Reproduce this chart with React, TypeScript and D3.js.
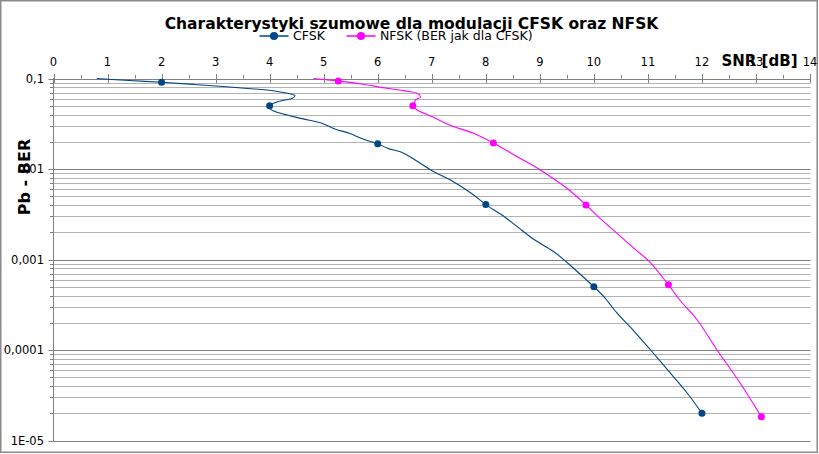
import React from "react";
import * as d3 from "d3";

// SNR [dB] and bit error rate for each modulation
const cfskSnr = [0.8, 1.4, 2.0, 2.6, 3.2, 3.6, 3.95, 4.33, 4.47, 4.42, 4.2, 4.0, 4.02, 4.25, 4.6, 5.0, 5.18, 5.5, 5.74, 6.0, 6.2, 6.42, 6.7, 7.03, 7.34, 7.77, 8.0, 8.3, 8.58, 8.9, 9.26, 9.66, 10.0, 10.2, 10.43, 10.75, 11.05, 11.42, 11.73, 12.0];
const cfskBer = [0.1, 0.095, 0.0908, 0.086, 0.081, 0.0775, 0.0746, 0.0686, 0.0645, 0.0605, 0.0565, 0.05, 0.0455, 0.0405, 0.036, 0.0315, 0.0281, 0.0245, 0.0213, 0.019, 0.0168, 0.0155, 0.0125, 0.0094, 0.0076, 0.0052, 0.00404, 0.0031, 0.00231, 0.00165, 0.00122, 0.000766, 0.0005, 0.00038, 0.000255, 0.00016, 0.0001, 5.52e-5, 3.33e-5, 2.0e-5];
const cfskMarkers = [2, 11, 19, 26, 32, 39];

const nfskSnr = [4.81, 5.27, 5.7, 6.17, 6.5, 6.73, 6.79, 6.7, 6.68, 6.65, 6.73, 7.0, 7.34, 7.77, 8.14, 8.6, 9.01, 9.5, 9.855, 10.1, 10.43, 10.75, 11.05, 11.38, 11.6, 11.91, 12.28, 12.71, 13.1];
const nfskBer = [0.1, 0.0937, 0.087, 0.0779, 0.073, 0.0686, 0.0625, 0.058, 0.054, 0.05, 0.0449, 0.038, 0.0305, 0.0248, 0.0194, 0.0135, 0.00975, 0.00612, 0.004, 0.0029, 0.00194, 0.00132, 0.00092, 0.000525, 0.00035, 0.000216, 0.0001, 4.29e-5, 1.83e-5];
const nfskMarkers = [1, 9, 14, 18, 23, 28];

const xTicks = [0, 1, 2, 3, 4, 5, 6, 7, 8, 9, 10, 11, 12, 13, 14];
const yDecades = [0.1, 0.01, 0.001, 0.0001, 0.00001];
const yLabels = ["0,1", "0,01", "0,001", "0,0001", "1E-05"];

const title = "Charakterystyki szumowe dla modulacji CFSK oraz NFSK";
const seriesNames = ["CFSK", "NFSK (BER jak dla CFSK)"];
const seriesColors = ["#004586", "#ff00ff"];

const W = 819;
const H = 454;
const FONT = "'DejaVu Sans', Verdana, sans-serif";

export default function App() {
  const x = d3.scaleLinear().domain([0, 14]).range([53.5, 810]);
  const y = d3.scaleLog().domain([1e-5, 0.1]).range([440.5, 78.5]);

  // minor gridlines: 2..9 within each decade
  const minor: number[] = [];
  for (let e = -5; e < -1; e++) {
    for (let m = 2; m <= 9; m++) minor.push(m * Math.pow(10, e));
  }
  const halfTicks = xTicks.slice(0, -1).map((t) => t + 0.5);

  const line = d3
    .line<[number, number]>()
    .x((d) => x(d[0]))
    .y((d) => y(d[1]))
    .curve(d3.curveCatmullRom.alpha(0.5));

  const series = [
    { snr: cfskSnr, ber: cfskBer, marks: cfskMarkers },
    { snr: nfskSnr, ber: nfskBer, marks: nfskMarkers },
  ].map((s, i) => ({
    pts: s.snr.map((v, j) => [v, s.ber[j]] as [number, number]),
    marks: s.marks,
    color: seriesColors[i],
    name: seriesNames[i],
  }));

  const legendItems = [
    { x0: 259.5, text: seriesNames[0], color: seriesColors[0] },
    { x0: 346.5, text: seriesNames[1], color: seriesColors[1] },
  ];

  const snap = (v: number) => Math.round(v) + 0.5;

  return (
    <svg
      width={W}
      height={H}
      style={{ position: "absolute", left: 0, top: 0, background: "#fff" }}
      fontFamily={FONT}
    >
      <rect x={0.75} y={0.75} width={816.5} height={451.5} fill="#fff" stroke="#8a8a8a" strokeWidth={1.5} />

      {/* gridlines */}
      {minor.map((v, i) => (
        <line key={"mg" + i} x1={53.5} x2={810.5} y1={snap(y(v))} y2={snap(y(v))} stroke="#b3b3b3" strokeWidth={1} />
      ))}
      {yDecades.map((v, i) => (
        <line key={"Mg" + i} x1={53.5} x2={810.5} y1={snap(y(v))} y2={snap(y(v))} stroke="#808080" strokeWidth={1} />
      ))}

      {/* left axis */}
      <line x1={53.5} x2={53.5} y1={78} y2={441} stroke="#808080" />
      {minor.map((v, i) => (
        <line key={"mt" + i} x1={50} x2={53.5} y1={snap(y(v))} y2={snap(y(v))} stroke="#808080" />
      ))}
      {yDecades.map((v, i) => (
        <g key={"yl" + i}>
          <line x1={48.5} x2={53.5} y1={snap(y(v))} y2={snap(y(v))} stroke="#808080" />
          <text x={44} y={y(v)} dy="0.36em" textAnchor="end" fontSize={11.5} fill="#000">
            {yLabels[i]}
          </text>
        </g>
      ))}

      {/* top axis */}
      {xTicks.map((t) => (
        <g key={"xt" + t}>
          <line x1={snap(x(t))} x2={snap(x(t))} y1={74} y2={83} stroke="#808080" />
          <text x={x(t)} y={65.7} textAnchor="middle" fontSize={11.5} fill="#000">
            {t}
          </text>
        </g>
      ))}
      {halfTicks.map((t) => (
        <line key={"ht" + t} x1={snap(x(t))} x2={snap(x(t))} y1={75} y2={78.5} stroke="#808080" />
      ))}

      {/* series */}
      {series.map((s, i) => (
        <g key={"s" + i}>
          <path d={line(s.pts) || ""} fill="none" stroke={s.color} strokeWidth={1.1} strokeLinejoin="round" />
          {s.marks.map((m) => (
            <circle key={m} cx={x(s.pts[m][0])} cy={y(s.pts[m][1])} r={3.5} fill={s.color} />
          ))}
        </g>
      ))}

      {/* titles */}
      <text x={411.5} y={28.5} textAnchor="middle" fontSize={15.5} fontWeight="bold" fill="#000">
        {title}
      </text>
      <text x={797.5} y={65.7} textAnchor="end" fontSize={15} fontWeight="bold" fill="#000">
        SNR [dB]
      </text>
      <text transform="translate(29.5,177) rotate(-90)" textAnchor="middle" fontSize={16} fontWeight="bold" fill="#000">
        Pb - BER
      </text>

      {/* legend */}
      {legendItems.map((l, i) => (
        <g key={"lg" + i}>
          <line x1={l.x0} x2={l.x0 + 29} y1={36} y2={36} stroke={l.color} strokeWidth={1.5} />
          <circle cx={l.x0 + 14.5} cy={36} r={4} fill={l.color} />
          <text x={l.x0 + 33.5} y={40} fontSize={12.5} fill="#000">
            {l.text}
          </text>
        </g>
      ))}
    </svg>
  );
}
